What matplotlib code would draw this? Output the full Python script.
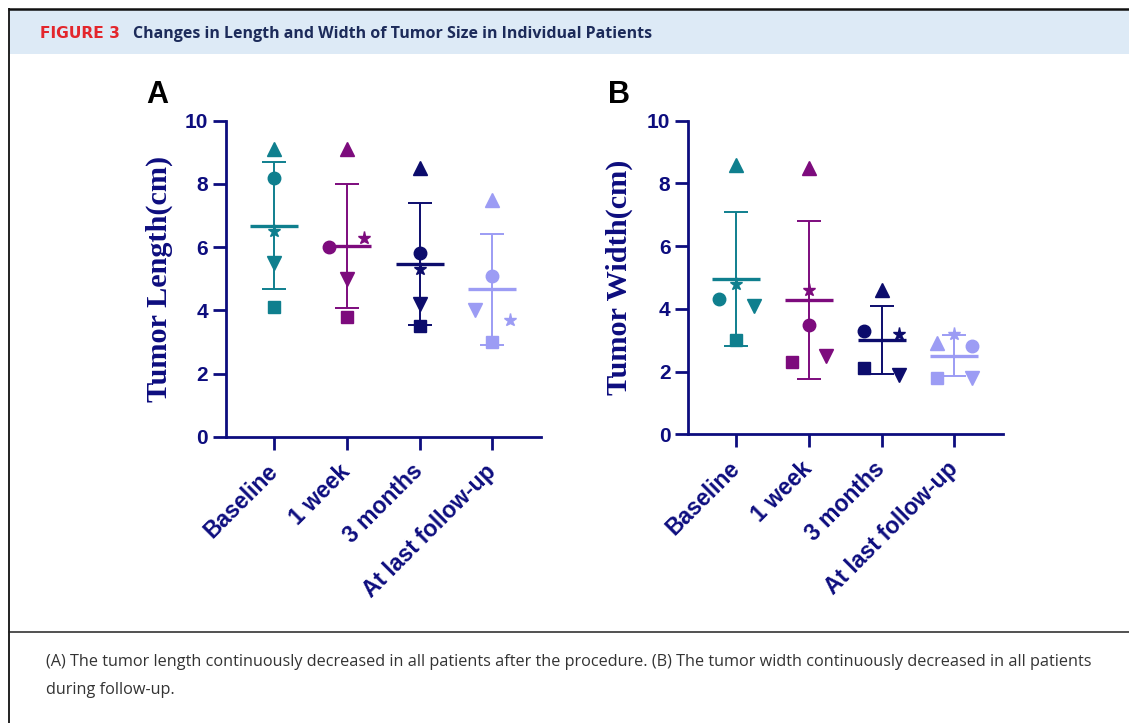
import numpy as np
import matplotlib
matplotlib.use("Agg")
import matplotlib.pyplot as plt
from matplotlib.patches import Rectangle

# ---------------- data ----------------
categories = ["Baseline", "1 week", "3 months", "At last follow-up"]
patient_markers = ["^", "o", "s", "v", "*"]

length_p1 = [9.1, 9.1, 8.5, 7.5]
length_p2 = [8.2, 6.0, 5.8, 5.1]
length_p3 = [4.1, 3.8, 3.5, 3.0]
length_p4 = [5.5, 5.0, 4.2, 4.0]
length_p5 = [6.5, 6.3, 5.3, 3.7]

width_p1 = [8.6, 8.5, 4.6, 2.9]
width_p2 = [4.3, 3.5, 3.3, 2.8]
width_p3 = [3.0, 2.3, 2.1, 1.8]
width_p4 = [4.1, 2.5, 1.9, 1.8]
width_p5 = [4.8, 4.6, 3.2, 3.2]

y_ticks = [0, 2, 4, 6, 8, 10]

title_tag = "FIGURE 3"
title_text = "Changes in Length and Width of Tumor Size in Individual Patients"
caption_1 = ("(A) The tumor length continuously decreased in all patients after the procedure. "
             "(B) The tumor width continuously decreased in all patients")
caption_2 = "during follow-up."

# ---------------- style ----------------
group_colors = ["#0F7F8E", "#7D0B7D", "#0C0C6C", "#9C9CF4"]
navy = "#0D0D7E"
marker_sizes = {"^": 9.5, "o": 9.0, "s": 8.6, "v": 9.5, "*": 9.5}
sans = "Liberation Sans"
serif = "Liberation Serif"

W, H = 1129, 723
fig = plt.figure(figsize=(W / 100, H / 100), dpi=100)

# background / frame in pixel coordinates
bg = fig.add_axes([0, 0, 1, 1], zorder=-10)
bg.set_xlim(0, W)
bg.set_ylim(H, 0)
bg.axis("off")
bg.add_patch(Rectangle((9, 9), W - 9, 45, facecolor="#DDEAF6", edgecolor="none"))
bg.plot([8, W], [8.5, 8.5], color="#111111", lw=1.8, solid_capstyle="butt")
bg.plot([8.5, 8.5], [8, H], color="#111111", lw=1.3, solid_capstyle="butt")
bg.plot([8, W], [632, 632], color="#222222", lw=1.1, solid_capstyle="butt")
bg.text(40, 33.5, title_tag, color="#E3262C", fontsize=11.2, fontweight="bold",
        family="DejaVu Sans", va="center", ha="left")
bg.text(133, 33.5, title_text, color="#1C2B5A", fontsize=11.5, fontweight="bold",
        family="Open Sans", va="center", ha="left")
bg.text(46, 662, caption_1, color="#333333", fontsize=11.7, family="Open Sans",
        va="center", ha="left")
bg.text(46, 690, caption_2, color="#333333", fontsize=11.7, family="Open Sans",
        va="center", ha="left")
bg.text(146, 95, "A", fontsize=22, fontweight="bold", family=sans, va="center", ha="left")
bg.text(608, 95, "B", fontsize=22, fontweight="bold", family=sans, va="center", ha="left")


def spread_offsets(vals, gap=0.45, d=0.24):
    """Spread overlapping points of one column sideways (scatter-dot-plot style)."""
    vals = np.asarray(vals, dtype=float)
    order = np.argsort(-vals, kind="stable")
    clusters, cur = [], [order[0]]
    for i in order[1:]:
        if vals[cur[-1]] - vals[i] < gap:
            cur.append(i)
        else:
            clusters.append(cur)
            cur = [i]
    clusters.append(cur)
    off = np.zeros(len(vals))
    for c in clusters:
        if len(c) == 2:
            a, b = sorted(c)
            off[a], off[b] = -d, d
        elif len(c) == 3:
            rest = sorted(c[1:])
            off[rest[0]], off[rest[1]] = -d, d
        elif len(c) > 3:
            for k, idx in enumerate(sorted(c)):
                off[idx] = np.linspace(-d, d, len(c))[k]
    return off


def draw_panel(rect, data, ylabel, label_x):
    ax = fig.add_axes(rect)
    arr = np.array(data, dtype=float)
    for g in range(len(categories)):
        vals = arr[:, g]
        offs = spread_offsets(vals)
        m, s = vals.mean(), vals.std(ddof=1)
        c = group_colors[g]
        ax.errorbar(g, m, yerr=s, fmt="none", ecolor=c, elinewidth=1.4,
                    capsize=8.4, capthick=1.4, zorder=2)
        ax.plot(g, m, marker="_", ms=35, mew=2.4, color=c, ls="none", zorder=2)
        for p, mk in enumerate(patient_markers):
            ax.plot(g + offs[p], vals[p], marker=mk, ms=marker_sizes[mk], color=c,
                    mec=c, ls="none", zorder=3, clip_on=False)
    ax.set_xlim(-0.66, 3.67)
    ax.set_ylim(0, 10)
    for sp in ["top", "right"]:
        ax.spines[sp].set_visible(False)
    for sp in ["left", "bottom"]:
        ax.spines[sp].set_color(navy)
        ax.spines[sp].set_linewidth(2.0)
    ax.set_yticks(y_ticks)
    ax.set_yticklabels([str(t) for t in y_ticks], fontsize=15, fontweight="bold",
                       family=sans, color=navy)
    ax.set_xticks(range(len(categories)))
    ax.set_xticklabels(categories, fontsize=16.5, fontweight="bold", family=sans,
                       color=navy, rotation=45, ha="right", va="center",
                       rotation_mode="anchor")
    ax.tick_params(axis="both", length=9.4, width=2.0, color=navy, direction="out")
    ax.tick_params(axis="y", pad=3.5)
    ax.tick_params(axis="x", pad=13)
    ax.set_ylabel(ylabel, fontsize=21.8, fontweight="bold", family=serif, color=navy)
    ax.yaxis.set_label_coords(label_x, 0.5)
    ax.patch.set_alpha(0)
    return ax


length_data = [length_p1, length_p2, length_p3, length_p4, length_p5]
width_data = [width_p1, width_p2, width_p3, width_p4, width_p5]

axA = draw_panel([226 / W, 1 - 436.7 / H, (541 - 226) / W, (436.7 - 120.7) / H],
                 length_data, "Tumor Length(cm)", -0.168)
axB = draw_panel([688.3 / W, 1 - 434.3 / H, (1003 - 688.3) / W, (434.3 - 120.7) / H],
                 width_data, "Tumor Width(cm)", -0.176)

fig.savefig("out.png", dpi=100)
